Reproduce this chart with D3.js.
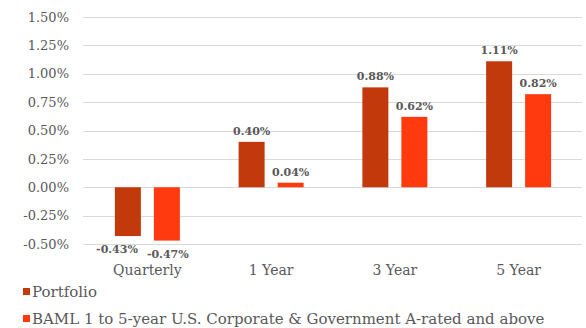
<!DOCTYPE html>
<html>
<head>
<meta charset="utf-8">
<script src="https://cdn.jsdelivr.net/npm/d3@7"></script>
<style>
  html, body { margin: 0; padding: 0; background: #fff; }
  svg text { font-family: Georgia, "DejaVu Serif", serif; fill: #595959; }
</style>
</head>
<body>
<svg id="chart" width="586" height="328"></svg>
<script>
// Trailing returns by period
const categories = ["Quarterly", "1 Year", "3 Year", "5 Year"];
const seriesNames = ["Portfolio", "BAML 1 to 5-year U.S. Corporate & Government A-rated and above"];
const portfolio = [-0.43, 0.40, 0.88, 1.11];
const benchmark = [-0.47, 0.04, 0.62, 0.82];
const yTicks = [-0.50, -0.25, 0.00, 0.25, 0.50, 0.75, 1.00, 1.25, 1.50];
const colors = ["#C23A0C", "#FF3A0E"];

const svg = d3.select("#chart");
const fmt = v => v.toFixed(2) + "%";

const x0 = d3.scaleBand().domain(categories).range([85.5, 580.5]);
const x1 = d3.scaleBand().domain(seriesNames).range([0, 65]).paddingInner(1 / 3);
const groupOffset = (x0.bandwidth() - 65) / 2;
const y = d3.scaleLinear().domain([-0.5, 1.5]).range([244, 17]);

// horizontal gridlines
svg.append("g")
  .selectAll("line")
  .data(yTicks)
  .join("line")
  .attr("x1", 83).attr("x2", 582)
  .attr("y1", d => Math.round(y(d)) + 0.5)
  .attr("y2", d => Math.round(y(d)) + 0.5)
  .attr("stroke", "#DADADA")
  .attr("stroke-width", 1.2);

// y axis labels
const yAxis = d3.axisLeft(y).tickValues(yTicks).tickFormat(fmt).tickSize(0).tickPadding(0);
const yg = svg.append("g").attr("transform", "translate(69,0)").call(yAxis);
yg.select(".domain").remove();
yg.selectAll("text").style("font-size", "13px").attr("fill", "#595959");

// x axis category labels
const xAxis = d3.axisBottom(x0).tickSize(0).tickPadding(0);
const xg = svg.append("g").attr("transform", "translate(0,265)").call(xAxis);
xg.select(".domain").remove();
xg.selectAll("text").style("font-size", "14px").attr("fill", "#595959");

// bars and value labels
const rows = categories.map((c, i) => ({
  cat: c,
  vals: [
    { name: seriesNames[0], v: portfolio[i], ci: 0 },
    { name: seriesNames[1], v: benchmark[i], ci: 1 }
  ]
}));

const groups = svg.append("g")
  .selectAll("g")
  .data(rows)
  .join("g")
  .attr("transform", d => `translate(${x0(d.cat) + groupOffset},0)`);

groups.selectAll("rect")
  .data(d => d.vals)
  .join("rect")
  .attr("x", d => x1(d.name))
  .attr("width", x1.bandwidth())
  .attr("y", d => Math.min(y(d.v), y(0)))
  .attr("height", d => Math.abs(y(d.v) - y(0)))
  .attr("fill", d => colors[d.ci]);

// labels above positive bars; below negative bars, spread apart so they don't collide
groups.selectAll("text.val")
  .data(d => d.vals)
  .join("text")
  .attr("class", "val")
  .attr("x", d => {
    if (d.v >= 0) return x1(d.name) + x1.bandwidth() / 2;
    return d.ci === 0 ? x1(d.name) + x1.bandwidth() - 3 : x1(d.name) - 7;
  })
  .attr("y", d => d.v >= 0 ? y(d.v) - 7 : y(d.v) + 17)
  .attr("text-anchor", d => d.v >= 0 ? "middle" : (d.ci === 0 ? "end" : "start"))
  .style("font-size", "11px")
  .style("font-weight", "bold")
  .text(d => fmt(d.v));

// legend
const legend = svg.append("g")
  .selectAll("g")
  .data(seriesNames)
  .join("g")
  .attr("transform", (d, i) => `translate(23,${292 + i * 27})`);

legend.append("rect")
  .attr("x", 0).attr("y", -4)
  .attr("width", 7).attr("height", 7)
  .attr("fill", (d, i) => colors[i]);

legend.append("text")
  .attr("x", 9).attr("y", 0)
  .attr("dy", "0.35em")
  .style("font-size", "15px")
  .text(d => d);
</script>
</body>
</html>
